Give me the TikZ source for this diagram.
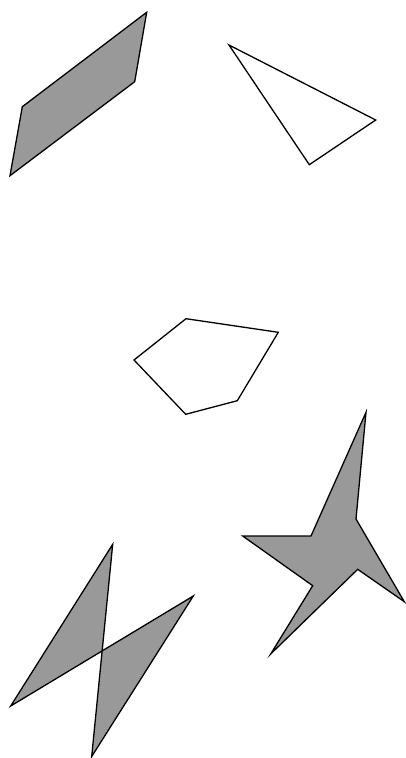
\documentclass[tikz,border=0pt]{standalone}
\definecolor{shapegray}{RGB}{153,153,153}
\begin{document}
\begin{tikzpicture}[x=1pt,y=-1pt,
  filledshape/.style={draw=black,fill=shapegray,line width=1.3pt,line join=miter},
  openshape/.style={draw=black,fill=white,line width=1.3pt,line join=miter}]
\useasboundingbox (0,0) rectangle (406,758);
% parallelogram
\draw[filledshape] (146.7,12.3) -- (134.7,81.7) -- (10,175.7) -- (22.3,106.7) -- cycle;
% triangle
\draw[openshape] (229,45) -- (375.7,120) -- (309.3,164.7) -- cycle;
% pentagon
\draw[openshape] (186,318.7) -- (278.3,332.3) -- (237.3,400.7) -- (185.7,414.3) -- (134,360) -- cycle;
% star
\draw[filledshape] (366,412.3) -- (356,519) -- (404.3,601.7) -- (357.7,569.3) -- (270.7,654) -- (312.7,585.7) -- (242.7,536) -- (311,536) -- cycle;
% bowtie
\draw[filledshape] (112.7,544.3) -- (10.7,706) -- (193.3,596) -- (91.7,756.5) -- cycle;
\end{tikzpicture}
\end{document}
